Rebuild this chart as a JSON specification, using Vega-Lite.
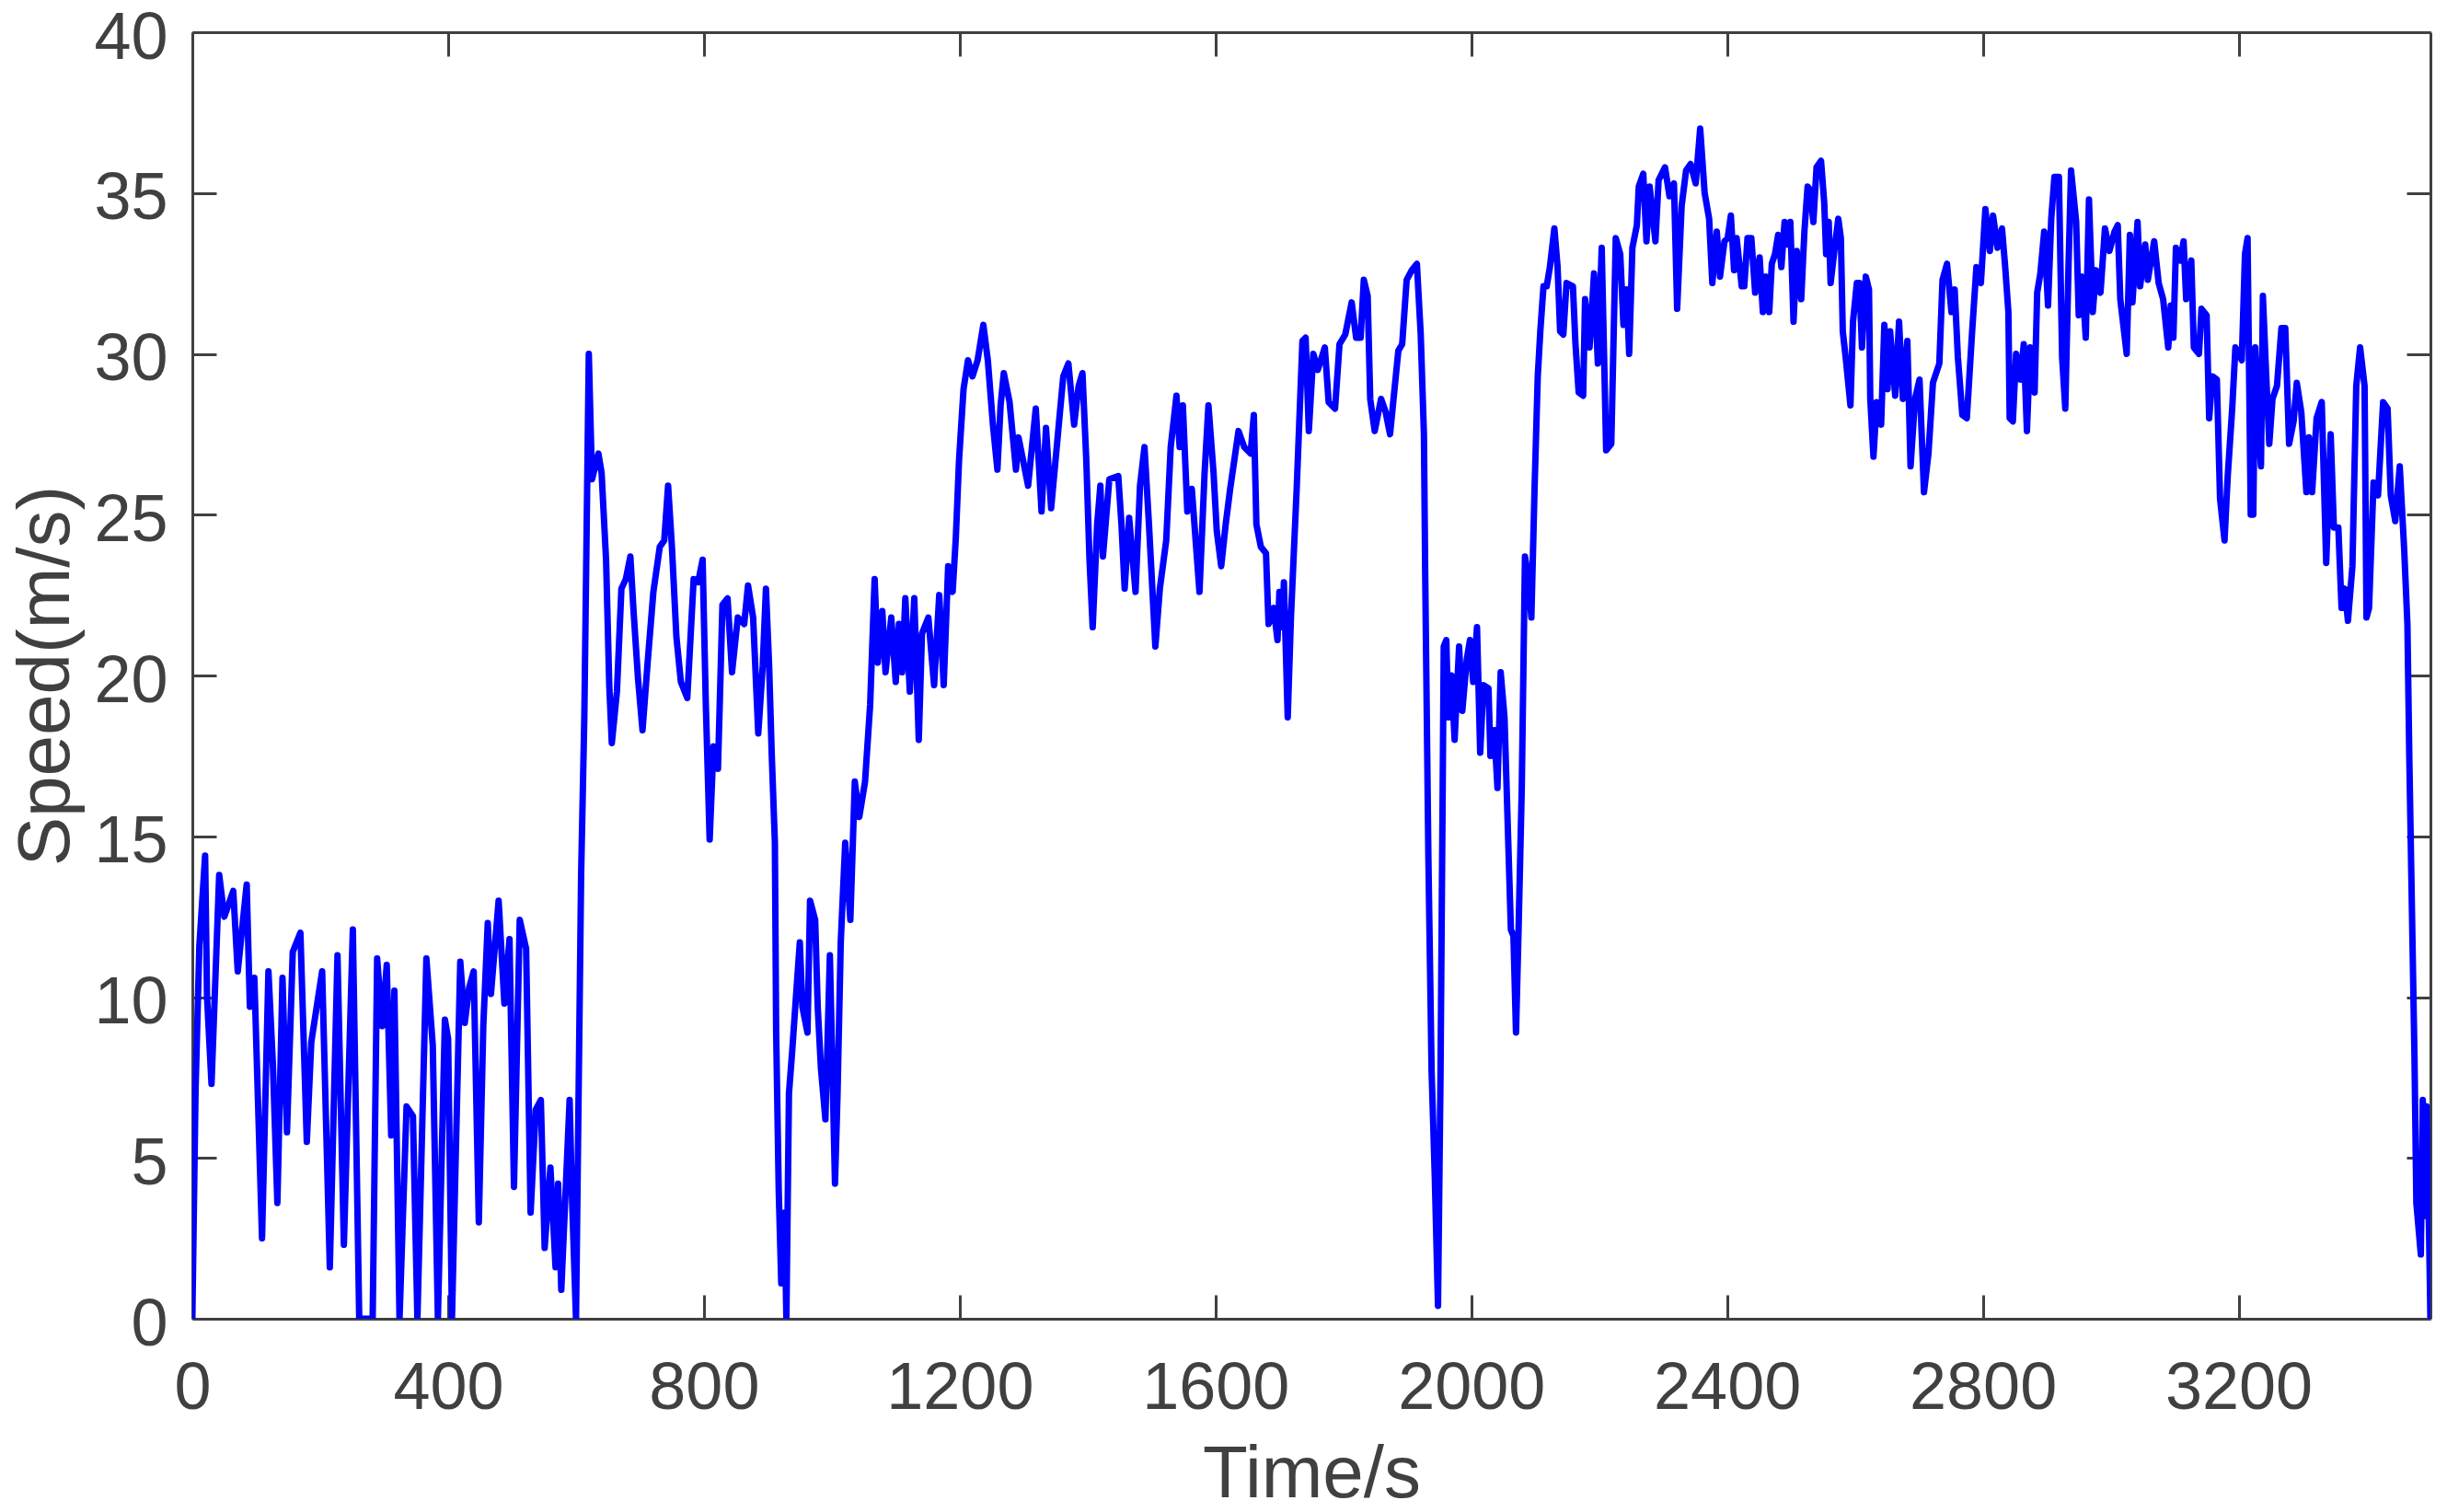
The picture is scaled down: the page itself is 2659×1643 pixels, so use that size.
{
  "$schema": "https://vega.github.io/schema/vega-lite/v6.json",
  "width": 2432,
  "height": 1398,
  "autosize": {"type": "none"},
  "padding": {"left": 209, "top": 35, "right": 18, "bottom": 210},
  "background": "white",
  "config": {"view": {"stroke": null}, "font": "Liberation Sans"},
  "data": {"values": [
    {"t":0,"v":0},{"t":5,"v":7.1},{"t":11,"v":11.6},{"t":20,"v":14.4},{"t":23,"v":10.0},{"t":30,"v":7.3},{"t":42,"v":13.8},{"t":50,"v":12.5},{"t":64,"v":13.3},{"t":71,"v":10.8},{"t":85,"v":13.5},{"t":90,"v":9.7},{"t":97,"v":10.6},{"t":109,"v":2.5},{"t":119,"v":10.8},{"t":126,"v":7.9},{"t":133,"v":3.6},{"t":141,"v":10.6},{"t":148,"v":5.8},{"t":157,"v":11.4},{"t":169,"v":12.0},{"t":179,"v":5.5},{"t":186,"v":8.6},{"t":203,"v":10.8},{"t":215,"v":1.6},{"t":227,"v":11.3},{"t":237,"v":2.3},{"t":251,"v":12.1},{"t":261,"v":0},{"t":282,"v":0},{"t":289,"v":11.2},{"t":297,"v":9.1},{"t":304,"v":11.0},{"t":311,"v":5.7},{"t":316,"v":10.2},{"t":324,"v":0},{"t":335,"v":6.6},{"t":345,"v":6.3},{"t":352,"v":0},{"t":366,"v":11.2},{"t":376,"v":8.5},{"t":384,"v":0},{"t":395,"v":9.3},{"t":400,"v":8.7},{"t":406,"v":0},{"t":419,"v":11.1},{"t":426,"v":9.2},{"t":433,"v":10.3},{"t":440,"v":10.8},{"t":448,"v":3.0},{"t":455,"v":9.1},{"t":462,"v":12.3},{"t":467,"v":10.1},{"t":479,"v":13.0},{"t":488,"v":9.8},{"t":496,"v":11.8},{"t":503,"v":4.1},{"t":512,"v":12.4},{"t":522,"v":11.5},{"t":529,"v":3.3},{"t":537,"v":6.5},{"t":545,"v":6.8},{"t":551,"v":2.2},{"t":560,"v":4.7},{"t":568,"v":1.6},{"t":572,"v":4.2},{"t":577,"v":0.9},{"t":590,"v":6.8},{"t":594,"v":3.6},{"t":600,"v":0},{"t":608,"v":13.8},{"t":613,"v":18.7},{"t":620,"v":30.0},
    {"t":625,"v":26.1},{"t":635,"v":26.9},{"t":640,"v":26.3},{"t":647,"v":23.6},{"t":652,"v":19.7},{"t":656,"v":17.9},{"t":664,"v":19.5},{"t":671,"v":22.7},{"t":678,"v":23.0},{"t":685,"v":23.7},{"t":690,"v":22.0},{"t":697,"v":19.9},{"t":704,"v":18.3},{"t":712,"v":20.4},{"t":721,"v":22.6},{"t":731,"v":24.0},{"t":738,"v":24.2},{"t":744,"v":25.9},{"t":750,"v":24.0},{"t":757,"v":21.2},{"t":764,"v":19.8},{"t":774,"v":19.3},{"t":784,"v":23.0},{"t":791,"v":22.9},{"t":798,"v":23.6},{"t":803,"v":19.1},{"t":809,"v":14.9},{"t":815,"v":17.8},{"t":822,"v":17.1},{"t":829,"v":22.2},{"t":837,"v":22.4},{"t":844,"v":20.1},{"t":853,"v":21.8},{"t":863,"v":21.6},{"t":869,"v":22.8},{"t":877,"v":21.8},{"t":885,"v":18.2},{"t":892,"v":20.3},{"t":897,"v":22.7},{"t":902,"v":20.3},{"t":906,"v":17.6},{"t":911,"v":14.8},{"t":913,"v":8.9},{"t":917,"v":4.0},{"t":921,"v":1.1},{"t":926,"v":3.3},{"t":929,"v":0},{"t":933,"v":7.0},{"t":938,"v":8.3},{"t":945,"v":10.3},{"t":950,"v":11.7},{"t":954,"v":9.7},{"t":962,"v":8.9},{"t":966,"v":13.0},{"t":974,"v":12.4},{"t":978,"v":9.7},{"t":983,"v":7.8},{"t":990,"v":6.2},{"t":997,"v":11.3},{"t":1005,"v":4.2},{"t":1009,"v":7.0},{"t":1014,"v":11.7},{"t":1021,"v":14.8},{"t":1029,"v":12.4},{"t":1036,"v":16.7},{"t":1043,"v":15.6},{"t":1052,"v":16.7},{"t":1060,"v":19.1},{"t":1067,"v":23.0},{"t":1072,"v":20.4},{"t":1079,"v":22.0},{"t":1084,"v":20.1},{"t":1093,"v":21.8},
    {"t":1100,"v":19.8},{"t":1105,"v":21.6},{"t":1110,"v":20.1},{"t":1115,"v":22.4},{"t":1122,"v":19.5},{"t":1129,"v":22.4},{"t":1136,"v":18.0},{"t":1141,"v":21.3},{"t":1151,"v":21.8},{"t":1160,"v":19.7},{"t":1168,"v":22.5},{"t":1175,"v":19.7},{"t":1182,"v":23.4},{"t":1189,"v":22.6},{"t":1194,"v":24.3},{"t":1199,"v":26.7},{"t":1206,"v":28.9},{"t":1213,"v":29.8},{"t":1220,"v":29.3},{"t":1228,"v":29.8},{"t":1237,"v":30.9},{"t":1244,"v":29.8},{"t":1252,"v":27.8},{"t":1259,"v":26.4},{"t":1264,"v":28.4},{"t":1269,"v":29.4},{"t":1278,"v":28.5},{"t":1288,"v":26.4},{"t":1292,"v":27.4},{"t":1307,"v":25.9},{"t":1319,"v":28.3},{"t":1328,"v":25.1},{"t":1335,"v":27.7},{"t":1343,"v":25.2},{"t":1355,"v":27.8},{"t":1362,"v":29.3},{"t":1370,"v":29.7},{"t":1379,"v":27.8},{"t":1386,"v":29.0},{"t":1392,"v":29.4},{"t":1398,"v":26.7},{"t":1403,"v":23.6},{"t":1408,"v":21.5},{"t":1415,"v":24.7},{"t":1420,"v":25.9},{"t":1424,"v":23.7},{"t":1434,"v":26.1},{"t":1448,"v":26.2},{"t":1453,"v":24.7},{"t":1458,"v":22.7},{"t":1465,"v":24.9},{"t":1475,"v":22.6},{"t":1482,"v":25.9},{"t":1489,"v":27.1},{"t":1496,"v":24.7},{"t":1506,"v":20.9},{"t":1513,"v":22.7},{"t":1523,"v":24.2},{"t":1530,"v":27.1},{"t":1539,"v":28.7},{"t":1544,"v":27.1},{"t":1549,"v":28.4},{"t":1556,"v":25.1},{"t":1563,"v":25.8},{"t":1575,"v":22.6},{"t":1583,"v":26.3},{"t":1589,"v":28.4},{"t":1597,"v":26.3},{"t":1602,"v":24.5},{"t":1609,"v":23.4},
    {"t":1616,"v":24.7},{"t":1623,"v":25.8},{"t":1636,"v":27.6},{"t":1645,"v":27.1},{"t":1655,"v":26.9},{"t":1660,"v":28.1},{"t":1664,"v":24.7},{"t":1671,"v":24.0},{"t":1679,"v":23.8},{"t":1683,"v":21.6},{"t":1691,"v":22.1},{"t":1697,"v":21.1},{"t":1700,"v":22.6},{"t":1705,"v":21.5},{"t":1707,"v":22.9},{"t":1713,"v":18.7},{"t":1718,"v":21.8},{"t":1727,"v":25.8},{"t":1736,"v":30.4},{"t":1741,"v":30.5},{"t":1746,"v":27.6},{"t":1753,"v":30.0},{"t":1760,"v":29.5},{"t":1771,"v":30.2},{"t":1777,"v":28.5},{"t":1787,"v":28.3},{"t":1794,"v":30.3},{"t":1803,"v":30.6},{"t":1813,"v":31.6},{"t":1820,"v":30.5},{"t":1827,"v":30.5},{"t":1832,"v":32.3},{"t":1838,"v":31.8},{"t":1842,"v":28.6},{"t":1849,"v":27.6},{"t":1859,"v":28.6},{"t":1866,"v":28.2},{"t":1873,"v":27.5},{"t":1880,"v":28.9},{"t":1886,"v":30.1},{"t":1892,"v":30.3},{"t":1899,"v":32.3},{"t":1907,"v":32.6},{"t":1915,"v":32.8},{"t":1921,"v":30.6},{"t":1926,"v":27.5},{"t":1928,"v":23.1},{"t":1933,"v":14.3},{"t":1938,"v":7.7},{"t":1943,"v":4.4},{"t":1948,"v":0.4},{"t":1952,"v":7.7},{"t":1957,"v":20.9},{"t":1961,"v":21.1},{"t":1964,"v":18.7},{"t":1969,"v":20.0},{"t":1974,"v":18.0},{"t":1981,"v":20.9},{"t":1986,"v":18.9},{"t":1993,"v":20.5},{"t":1998,"v":21.1},{"t":2003,"v":19.8},{"t":2009,"v":21.5},{"t":2014,"v":17.6},{"t":2019,"v":19.7},{"t":2027,"v":19.6},{"t":2030,"v":17.5},{"t":2036,"v":18.3},{"t":2041,"v":16.5},{"t":2046,"v":20.1},{"t":2052,"v":18.7},{"t":2057,"v":15.4},{"t":2062,"v":12.1},{"t":2066,"v":11.9},{"t":2070,"v":8.9},{"t":2074,"v":12.1},{"t":2079,"v":16.5},{"t":2084,"v":23.7},{"t":2089,"v":23.1},{"t":2094,"v":21.8},{"t":2099,"v":25.8},{"t":2104,"v":29.3},{"t":2108,"v":30.7},
    {"t":2113,"v":32.1},{"t":2118,"v":32.1},{"t":2123,"v":32.7},{"t":2130,"v":33.9},{"t":2135,"v":32.7},{"t":2139,"v":30.7},{"t":2144,"v":30.6},{"t":2149,"v":32.2},{"t":2159,"v":32.1},{"t":2163,"v":30.3},{"t":2168,"v":28.8},{"t":2175,"v":28.7},{"t":2178,"v":31.7},{"t":2185,"v":30.2},{"t":2192,"v":32.5},{"t":2198,"v":29.7},{"t":2204,"v":33.3},{"t":2211,"v":27.0},{"t":2219,"v":27.2},{"t":2226,"v":33.6},{"t":2233,"v":33.1},{"t":2238,"v":30.9},{"t":2243,"v":32.0},{"t":2247,"v":30.0},{"t":2252,"v":33.3},{"t":2259,"v":34.0},{"t":2262,"v":35.2},{"t":2269,"v":35.6},{"t":2274,"v":33.5},{"t":2279,"v":35.2},{"t":2288,"v":33.5},{"t":2293,"v":35.4},{"t":2303,"v":35.8},{"t":2310,"v":34.9},{"t":2317,"v":35.3},{"t":2322,"v":31.4},{"t":2329,"v":34.6},{"t":2336,"v":35.7},{"t":2343,"v":35.9},{"t":2351,"v":35.3},{"t":2358,"v":37.0},{"t":2365,"v":35.0},{"t":2372,"v":34.2},{"t":2377,"v":32.2},{"t":2384,"v":33.8},{"t":2389,"v":32.4},{"t":2396,"v":33.5},{"t":2401,"v":33.6},{"t":2406,"v":34.3},{"t":2411,"v":32.6},{"t":2415,"v":33.6},{"t":2423,"v":32.1},{"t":2427,"v":32.1},{"t":2432,"v":33.6},{"t":2438,"v":33.6},{"t":2444,"v":31.9},{"t":2451,"v":33.0},{"t":2456,"v":31.3},{"t":2461,"v":32.4},{"t":2466,"v":31.3},{"t":2470,"v":32.8},{"t":2475,"v":33.1},{"t":2480,"v":33.7},{"t":2485,"v":32.7},{"t":2490,"v":34.1},{"t":2495,"v":33.4},{"t":2499,"v":34.1},{"t":2504,"v":31.0},{"t":2509,"v":33.2},{"t":2516,"v":31.7},{"t":2521,"v":33.8},{"t":2526,"v":35.2},{"t":2530,"v":35.1},{"t":2535,"v":34.1},{"t":2540,"v":35.8},{"t":2547,"v":36.0},{"t":2552,"v":34.7},{"t":2555,"v":33.1},{"t":2559,"v":34.1},{"t":2562,"v":32.2},{"t":2569,"v":33.4},{"t":2574,"v":34.2},{"t":2578,"v":33.6},{"t":2581,"v":30.7},{"t":2586,"v":29.8},{"t":2593,"v":28.4},{"t":2597,"v":31.0},
    {"t":2603,"v":32.2},{"t":2607,"v":32.2},{"t":2611,"v":30.2},{"t":2617,"v":32.4},{"t":2622,"v":32.0},{"t":2624,"v":28.6},{"t":2629,"v":26.8},{"t":2634,"v":28.5},{"t":2641,"v":27.8},{"t":2646,"v":30.9},{"t":2651,"v":28.9},{"t":2655,"v":30.7},{"t":2663,"v":28.7},{"t":2669,"v":31.0},{"t":2675,"v":28.6},{"t":2682,"v":30.4},{"t":2687,"v":26.5},{"t":2694,"v":28.6},{"t":2701,"v":29.2},{"t":2708,"v":25.7},{"t":2715,"v":26.9},{"t":2722,"v":29.1},{"t":2732,"v":29.7},{"t":2737,"v":32.3},{"t":2744,"v":32.8},{"t":2751,"v":31.3},{"t":2756,"v":32.0},{"t":2761,"v":29.9},{"t":2768,"v":28.1},{"t":2775,"v":28.0},{"t":2783,"v":30.6},{"t":2790,"v":32.7},{"t":2797,"v":32.2},{"t":2804,"v":34.5},{"t":2811,"v":33.2},{"t":2816,"v":34.3},{"t":2823,"v":33.3},{"t":2830,"v":33.9},{"t":2835,"v":32.7},{"t":2840,"v":31.3},{"t":2842,"v":28.0},{"t":2847,"v":27.9},{"t":2852,"v":30.0},{"t":2859,"v":29.2},{"t":2864,"v":30.3},{"t":2869,"v":27.6},{"t":2874,"v":30.2},{"t":2881,"v":28.8},{"t":2885,"v":31.9},{"t":2890,"v":32.5},{"t":2896,"v":33.8},{"t":2902,"v":31.5},{"t":2907,"v":34.2},{"t":2912,"v":35.5},{"t":2919,"v":35.5},{"t":2924,"v":29.9},{"t":2929,"v":28.3},{"t":2934,"v":32.7},{"t":2938,"v":35.7},{"t":2946,"v":34.1},{"t":2950,"v":31.2},{"t":2955,"v":32.4},{"t":2961,"v":30.5},{"t":2966,"v":34.8},{"t":2972,"v":31.3},{"t":2977,"v":32.6},{"t":2984,"v":31.9},{"t":2991,"v":33.9},{"t":2998,"v":33.2},{"t":3006,"v":33.8},{"t":3011,"v":34.0},{"t":3015,"v":31.7},{"t":3025,"v":30.0},{"t":3030,"v":33.7},{"t":3034,"v":31.6},{"t":3042,"v":34.1},{"t":3046,"v":32.1},{"t":3054,"v":33.4},{"t":3058,"v":32.3},{"t":3068,"v":33.5},{"t":3075,"v":32.2},{"t":3082,"v":31.7},{"t":3090,"v":30.2},{"t":3094,"v":31.5},{"t":3098,"v":30.5},
    {"t":3102,"v":33.3},{"t":3109,"v":32.9},{"t":3114,"v":33.5},{"t":3118,"v":31.7},{"t":3126,"v":32.9},{"t":3130,"v":30.2},{"t":3138,"v":30.0},{"t":3142,"v":31.4},{"t":3150,"v":31.2},{"t":3154,"v":28.0},{"t":3159,"v":29.3},{"t":3166,"v":29.2},{"t":3171,"v":25.5},{"t":3178,"v":24.2},{"t":3183,"v":26.2},{"t":3190,"v":28.3},{"t":3195,"v":30.2},{"t":3205,"v":29.8},{"t":3210,"v":33.1},{"t":3214,"v":33.6},{"t":3219,"v":25.0},{"t":3223,"v":25.0},{"t":3226,"v":30.2},{"t":3231,"v":27.8},{"t":3235,"v":26.5},{"t":3238,"v":31.8},{"t":3243,"v":29.4},{"t":3248,"v":27.2},{"t":3253,"v":28.6},{"t":3260,"v":29.0},{"t":3267,"v":30.8},{"t":3273,"v":30.8},{"t":3279,"v":27.2},{"t":3286,"v":27.9},{"t":3291,"v":29.1},{"t":3298,"v":28.2},{"t":3306,"v":25.7},{"t":3310,"v":27.4},{"t":3315,"v":25.7},{"t":3322,"v":28.0},{"t":3330,"v":28.5},{"t":3337,"v":23.5},{"t":3344,"v":27.5},{"t":3349,"v":24.6},{"t":3356,"v":24.6},{"t":3361,"v":22.1},{"t":3366,"v":22.7},{"t":3371,"v":21.7},{"t":3378,"v":23.4},{"t":3384,"v":29.0},{"t":3390,"v":30.2},{"t":3397,"v":29.0},{"t":3400,"v":21.8},{"t":3404,"v":22.1},{"t":3411,"v":26.0},{"t":3418,"v":25.6},{"t":3426,"v":28.5},{"t":3433,"v":28.3},{"t":3438,"v":25.6},{"t":3445,"v":24.8},{"t":3452,"v":26.5},{"t":3459,"v":23.9},{"t":3464,"v":21.6},{"t":3467,"v":17.4},{"t":3471,"v":12.8},{"t":3475,"v":8.2},{"t":3478,"v":3.6},{"t":3485,"v":2.0},{"t":3488,"v":6.8},{"t":3491,"v":3.2},{"t":3494,"v":6.6},{"t":3498,"v":2.5},{"t":3500,"v":0}
  ]},
  "layer": [
    {
      "mark": {"type": "line", "color": "#0000FF", "strokeWidth": 7, "strokeJoin": "round", "clip": true},
      "encoding": {
        "x": {
          "field": "t", "type": "quantitative",
          "scale": {"domain": [0, 3500], "nice": false, "zero": false},
          "axis": {
            "orient": "bottom",
            "values": [0, 400, 800, 1200, 1600, 2000, 2400, 2800, 3200],
            "format": "d",
            "grid": false,
            "tickSize": -26, "tickWidth": 3, "tickColor": "#404040",
            "domainColor": "#404040", "domainWidth": 3,
            "labelFont": "Liberation Sans", "labelFontSize": 72, "labelColor": "#404040",
            "labelBaseline": "alphabetic", "labelPadding": 123, "labelLimit": 0,
            "labelFlush": false, "labelOverlap": false,
            "title": "Time/s", "titleFont": "Liberation Sans", "titleFontSize": 80,
            "titleFontWeight": "normal", "titleColor": "#404040",
            "titleBaseline": "alphabetic", "titleY": 193
          }
        },
        "y": {
          "field": "v", "type": "quantitative",
          "scale": {"domain": [0, 40], "nice": false},
          "axis": {
            "orient": "left",
            "values": [0, 5, 10, 15, 20, 25, 30, 35, 40],
            "format": "d",
            "grid": false,
            "tickSize": -26, "tickWidth": 3, "tickColor": "#404040",
            "domainColor": "#404040", "domainWidth": 3,
            "labelFont": "Liberation Sans", "labelFontSize": 72, "labelColor": "#404040",
            "labelBaseline": "alphabetic", "labelOffset": 28, "labelPadding": 53, "labelLimit": 0,
            "labelFlush": false, "labelOverlap": false,
            "title": "Speed(m/s)", "titleFont": "Liberation Sans", "titleFontSize": 80,
            "titleFontWeight": "normal", "titleColor": "#404040",
            "titleBaseline": "alphabetic", "titleX": -135
          }
        }
      }
    },
    {
      "mark": {"type": "line", "strokeOpacity": 0},
      "encoding": {
        "x": {
          "field": "t", "type": "quantitative",
          "axis": {
            "orient": "top",
            "values": [0, 400, 800, 1200, 1600, 2000, 2400, 2800, 3200],
            "grid": false, "labels": false, "title": null,
            "tickSize": -26, "tickWidth": 3, "tickColor": "#404040",
            "domainColor": "#404040", "domainWidth": 3
          }
        },
        "y": {
          "field": "v", "type": "quantitative",
          "axis": {
            "orient": "right",
            "values": [0, 5, 10, 15, 20, 25, 30, 35, 40],
            "grid": false, "labels": false, "title": null,
            "tickSize": -26, "tickWidth": 3, "tickColor": "#404040",
            "domainColor": "#404040", "domainWidth": 3
          }
        }
      }
    }
  ],
  "resolve": {"axis": {"x": "independent", "y": "independent"}}
}
